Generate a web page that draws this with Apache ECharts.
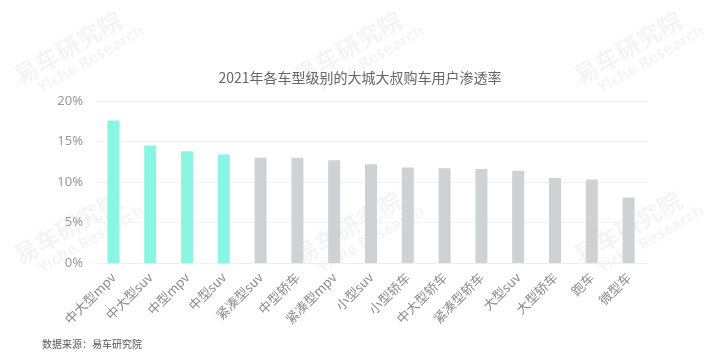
<!DOCTYPE html>
<html>
<head>
<meta charset="utf-8">
<script src="https://cdn.jsdelivr.net/npm/echarts@6/dist/echarts.min.js"></script>
<style>
  html, body { margin: 0; padding: 0; background: #fff; }
  #main { width: 720px; height: 355px; }
</style>
</head>
<body>
<div id="main"></div>
<script>
// 车型级别
const categories = ['中大型mpv', '中大型suv', '中型mpv', '中型suv', '紧凑型suv', '中型轿车', '紧凑型mpv',
  '小型suv', '小型轿车', '中大型轿车', '紧凑型轿车', '大型suv', '大型轿车', '跑车', '微型车']
// 渗透率 (%)
const values = [17.6, 14.5, 13.8, 13.4, 13.0, 13.0, 12.7, 12.2, 11.8, 11.7, 11.6, 11.4, 10.5, 10.3, 8.1]
// 前4个高亮
const highlightCount = 4
const yTicks = [0, 5, 10, 15, 20]

const chartBox = echarts.init(document.getElementById('main'))

// 水印
const watermarkPos = [[22, 88], [302, 88], [582, 88], [22, 268], [302, 268], [582, 268]]
const watermarks = watermarkPos.map(function (p) {
  return {
    type: 'group',
    x: p[0],
    y: p[1],
    rotation: Math.PI / 6,
    silent: true,
    children: [
      {
        type: 'text',
        x: 0,
        y: 0,
        style: {
          text: '易车研究院',
          font: 'bold 24px "Noto Sans CJK SC"',
          fill: 'rgba(0,0,0,0.045)',
          textVerticalAlign: 'bottom'
        }
      },
      {
        type: 'text',
        x: 14,
        y: 2,
        style: {
          text: 'Yiche Research',
          font: 'bold 16px "Noto Sans"',
          fill: 'rgba(0,0,0,0.045)',
          textVerticalAlign: 'top'
        }
      }
    ]
  }
})

const option = {
  backgroundColor: '#fff',
  title: {
    text: '2021年各车型级别的大城大叔购车用户渗透率',
    left: 'center',
    top: 66,
    textStyle: {
      color: '#666',
      fontSize: 14,
      fontWeight: 'normal',
      fontFamily: 'Noto Sans CJK SC'
    }
  },
  grid: {
    left: 95,
    right: 73,
    top: 101,
    bottom: 92
  },
  xAxis: {
    type: 'category',
    data: categories,
    axisLine: { lineStyle: { color: '#eeeeee' } },
    axisTick: { show: false },
    axisLabel: {
      rotate: 45,
      color: '#8c8c8c',
      fontSize: 13,
      margin: 12,
      fontFamily: 'Noto Sans CJK SC'
    }
  },
  yAxis: {
    type: 'value',
    min: yTicks[0],
    max: yTicks[yTicks.length - 1],
    interval: 5,
    axisLine: { show: false },
    axisTick: { show: false },
    splitLine: { lineStyle: { color: '#f2f2f2' } },
    axisLabel: {
      formatter: '{value}%',
      color: '#999',
      fontSize: 13,
      margin: 12,
      fontFamily: 'Noto Sans'
    }
  },
  series: [
    {
      type: 'bar',
      barWidth: 12,
      data: values.map(function (v, i) {
        return {
          value: v,
          itemStyle: { color: i < highlightCount ? '#8af5e1' : '#cfd2d5' }
        }
      })
    }
  ],
  graphic: watermarks.concat([
    {
      type: 'text',
      left: 42,
      top: 339,
      style: {
        text: '数据来源：易车研究院',
        font: '10px "Noto Sans CJK SC"',
        fill: '#555'
      }
    }
  ])
}
chartBox.setOption(option)
</script>
</body>
</html>
